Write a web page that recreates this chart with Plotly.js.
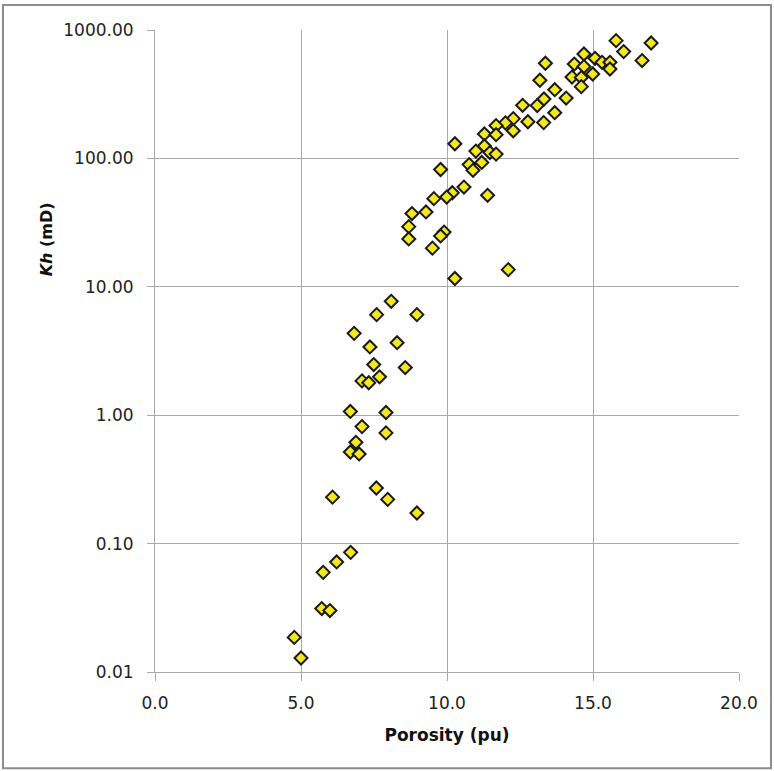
<!DOCTYPE html>
<html>
<head>
<meta charset="utf-8">
<script src="https://cdn.plot.ly/plotly-3.0.1.min.js"></script>
<style>
  html, body { margin: 0; padding: 0; background: #ffffff; }
  #chart { width: 774px; height: 771px; }
</style>
</head>
<body>
<div id="chart"></div>
<script>
// Porosity (pu) values
const porosity = [
  10.27, 9.78, 10.18, 9.99, 9.55, 8.80, 9.28, 8.69, 8.69, 9.90,
  9.78, 9.50, 10.27, 15.79, 16.99, 16.05, 16.68, 14.69, 15.07, 15.31,
  15.58, 15.58, 14.36, 14.69, 14.99, 14.28, 14.60, 14.60, 13.37, 13.18,
  13.69, 14.08, 13.32, 13.09, 12.59, 13.69, 12.77, 13.31, 12.27, 12.00,
  11.68, 12.27, 11.28, 11.68, 11.28, 10.99, 11.47, 11.68, 11.19, 10.76,
  10.89, 10.58, 11.39, 12.10, 8.09, 7.59, 8.97, 6.82, 7.36, 8.29,
  7.49, 8.57, 7.69, 7.09, 7.32, 6.69, 7.91, 7.09, 7.91, 6.88,
  6.69, 6.99, 7.58, 6.08, 7.97, 8.97, 6.70, 6.22, 5.76, 5.71,
  5.99, 4.77, 5.00
];
// Kh (mD) values
const kh = [
  130, 82, 54, 50, 48.6, 37.2, 38.3, 29.4, 23.6, 26.7,
  24.9, 20, 11.6, 826, 792, 679, 578, 650, 602, 560,
  560, 497, 543, 519, 454, 430, 426, 362, 551, 406,
  343, 295, 290, 258, 259, 227, 193, 190, 204, 189,
  180, 164, 155, 153, 125, 114, 111, 108, 93, 89.5,
  80.8, 59.8, 51.6, 13.6, 7.71, 6.07, 6.07, 4.34, 3.40, 3.67,
  2.48, 2.35, 1.99, 1.85, 1.79, 1.07, 1.05, 0.815, 0.728, 0.615,
  0.517, 0.499, 0.271, 0.230, 0.221, 0.173, 0.0855, 0.072, 0.0597, 0.0312,
  0.0301, 0.0186, 0.01285
];
const xTickVals = [0, 5, 10, 15, 20];
const xTickText = ["0.0", "5.0", "10.0", "15.0", "20.0"];
const yTickVals = [0.01, 0.1, 1, 10, 100, 1000];
const yTickText = ["0.01", "0.10", "1.00", "10.00", "100.00", "1000.00"];

const gridColor = "#a8a8a8";
const fam = "DejaVu Sans, Liberation Sans, Arial, sans-serif";
const tickFont = { family: fam, size: 17, color: "#222222" };

const trace = {
  x: porosity,
  y: kh,
  type: "scatter",
  mode: "markers",
  marker: {
    symbol: "diamond",
    size: 10,
    color: "#f2e81c",
    line: { color: "#1a1a1a", width: 2 }
  },
  hoverinfo: "x+y",
  showlegend: false
};

const layout = {
  width: 774,
  height: 771,
  margin: { l: 155, r: 35, t: 30, b: 99, pad: 0 },
  paper_bgcolor: "#ffffff",
  plot_bgcolor: "#ffffff",
  font: tickFont,
  xaxis: {
    range: [0, 20],
    tickmode: "array",
    tickvals: xTickVals,
    ticktext: xTickText,
    ticks: "outside",
    ticklen: 8,
    tickcolor: gridColor,
    tickwidth: 1,
    ticklabelstandoff: 8,
    showgrid: true,
    gridcolor: gridColor,
    gridwidth: 1,
    showline: true,
    linecolor: gridColor,
    linewidth: 1,
    zeroline: false,
    tickfont: tickFont,
    title: {
      text: "<b>Porosity (pu)</b>",
      font: { family: fam, size: 17, color: "#111111" },
      standoff: 16
    }
  },
  yaxis: {
    type: "log",
    range: [-2, 3],
    tickmode: "array",
    tickvals: yTickVals,
    ticktext: yTickText,
    ticks: "outside",
    ticklen: 7,
    tickcolor: gridColor,
    tickwidth: 1,
    ticklabelstandoff: 10,
    showgrid: true,
    gridcolor: gridColor,
    gridwidth: 1,
    showline: true,
    linecolor: gridColor,
    linewidth: 1,
    zeroline: false,
    tickfont: tickFont
  },
  annotations: [{
    text: "<b><i>Kh</i> (mD)</b>",
    xref: "paper",
    yref: "paper",
    x: -0.1866,
    y: 0.674,
    xanchor: "center",
    yanchor: "middle",
    textangle: -90,
    showarrow: false,
    font: { family: fam, size: 16, color: "#111111" }
  }],
  shapes: [{
    type: "rect",
    xref: "paper",
    yref: "paper",
    x0: -0.2603,
    x1: 1.0548,
    y0: -0.150,
    y1: 1.0388,
    line: { color: "#8c8c8c", width: 2 },
    fillcolor: "rgba(0,0,0,0)",
    layer: "below"
  }]
};

Plotly.newPlot("chart", [trace], layout, { displayModeBar: false, staticPlot: true });
</script>
</body>
</html>
